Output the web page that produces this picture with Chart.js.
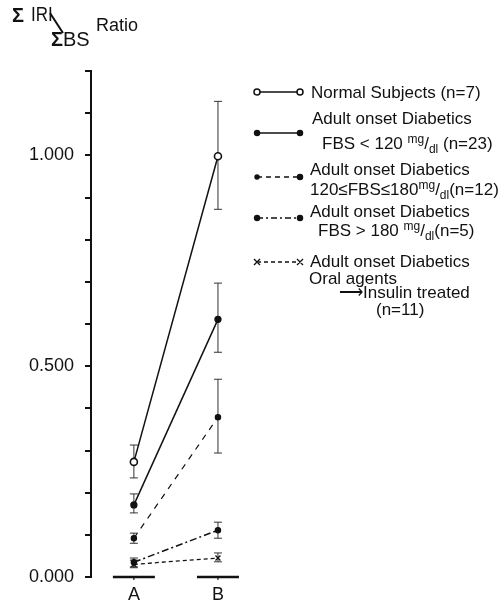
<!DOCTYPE html>
<html>
<head>
<meta charset="utf-8">
<script src="https://cdn.jsdelivr.net/npm/chart.js@4.4.1/dist/chart.umd.min.js"></script>
<style>
    body { margin: 0; background: #fff; }
    #wrap { position: relative; width: 499px; height: 604px; font-family: "Liberation Sans", Arial, sans-serif; color: #111; }
    #chart { position: absolute; left: 0; top: 0; }
    #deco { position: absolute; left: 0; top: 0; pointer-events: none; }
    .t { position: absolute; white-space: nowrap; font-size: 17px; line-height: 1; transform: translateY(-50%); }
    .t .up { font-size: 12px; position: relative; top: -6px; }
    .t .dn { font-size: 12px; position: relative; top: 4px; }
    .ttl { position: absolute; white-space: nowrap; font-size: 19px; line-height: 1; }
    .nar { display: inline-block; transform: scaleX(0.85); transform-origin: left center; }
</style>
</head>
<body>
<div id="wrap">
    <canvas id="chart" width="499" height="604"></canvas>

    <!-- axis title -->
    <div class="ttl" style="left:12px;top:5px;font-size:20px"><b>Σ</b></div>
    <div class="ttl" style="left:31px;top:4px;font-size:20px"><span class="nar">IRI</span></div>
    <div class="ttl" style="left:51px;top:29px;font-size:20px"><b>Σ</b>BS</div>
    <div class="ttl" style="left:96px;top:16px;font-size:18px">Ratio</div>

    <!-- legend -->
    <div class="t" style="left:311px;top:92px">Normal Subjects (n=7)</div>
    <div class="t" style="left:312px;top:118px">Adult onset Diabetics</div>
    <div class="t" style="left:322px;top:143px">FBS &lt; 120 <span class="up">mg</span>/<span class="dn">dl</span> (n=23)</div>
    <div class="t" style="left:310px;top:169px">Adult onset Diabetics</div>
    <div class="t" style="left:310px;top:189px">120≤FBS≤180<span class="up">mg</span>/<span class="dn">dl</span>(n=12)</div>
    <div class="t" style="left:310px;top:211px">Adult onset Diabetics</div>
    <div class="t" style="left:318px;top:230px">FBS &gt; 180 <span class="up">mg</span>/<span class="dn">dl</span>(n=5)</div>
    <div class="t" style="left:310px;top:261px">Adult onset Diabetics</div>
    <div class="t" style="left:309px;top:278px">Oral agents</div>
    <div class="t" style="left:339px;top:292px">⟶Insulin treated</div>
    <div class="t" style="left:376px;top:309px">(n=11)</div>

    <svg id="deco" width="499" height="604">
        <line x1="50" y1="13" x2="63" y2="33" stroke="#111" stroke-width="2"/>
        <g stroke="#111" stroke-width="1.5" fill="#111">
            <line x1="257" y1="92" x2="300" y2="92"/>
            <circle cx="257" cy="92" r="3" fill="#fff"/>
            <circle cx="300" cy="92" r="3" fill="#fff"/>
            <line x1="257" y1="133" x2="300" y2="133"/>
            <circle cx="257" cy="133" r="2.5"/>
            <circle cx="300" cy="133" r="2.5"/>
            <line x1="257" y1="177" x2="300" y2="177" stroke-dasharray="5,4"/>
            <circle cx="257" cy="177" r="2"/>
            <circle cx="300" cy="177" r="2.5"/>
            <line x1="257" y1="218" x2="300" y2="218" stroke-dasharray="6,3,2,3"/>
            <circle cx="257" cy="218" r="2.5"/>
            <circle cx="300" cy="218" r="2.5"/>
            <line x1="257" y1="262" x2="300" y2="262" stroke-dasharray="4,3"/>
            <path d="M254 259 L260 265 M260 259 L254 265 M297 259 L303 265 M303 259 L297 265" stroke-width="1.3"/>
        </g>
    </svg>
</div>

<script>
var groups = ['A', 'B'];
var xPos = [1, 2];

var normalMean = [0.273, 0.998];
var normalHigh = [0.313, 1.128];
var normalLow = [0.235, 0.872];

var fbsLowMean = [0.171, 0.611];
var fbsLowHigh = [0.197, 0.697];
var fbsLowLow = [0.152, 0.533];

var fbsMidMean = [0.092, 0.379];
var fbsMidHigh = [0.104, 0.469];
var fbsMidLow = [0.080, 0.294];

var fbsHighMean = [0.035, 0.111];
var fbsHighHigh = [0.045, 0.130];
var fbsHighLow = [0.024, 0.092];

var oralMean = [0.030, 0.045];
var oralHigh = [0.040, 0.057];
var oralLow = [0.022, 0.036];

var yLabels = [0, 0.5, 1.0];

function pts(arr) {
    return arr.map(function (v, i) { return {x: xPos[i], y: v}; });
}

var ink = '#111';

var errorBars = {
    id: 'errorBars',
    beforeDatasetsDraw: function (chart) {
        var ctx = chart.ctx;
        var xs = chart.scales.x, ys = chart.scales.y;
        ctx.save();
        ctx.strokeStyle = '#333';
        ctx.lineWidth = 1;
        chart.data.datasets.forEach(function (ds) {
            ds.errHigh.forEach(function (hi, i) {
                var x = xs.getPixelForValue(xPos[i]);
                var y1 = ys.getPixelForValue(hi);
                var y2 = ys.getPixelForValue(ds.errLow[i]);
                ctx.beginPath();
                ctx.moveTo(x, y1); ctx.lineTo(x, y2);
                ctx.moveTo(x - 4, y1); ctx.lineTo(x + 4, y1);
                ctx.moveTo(x - 4, y2); ctx.lineTo(x + 4, y2);
                ctx.stroke();
            });
        });
        ctx.restore();
    },
    afterDraw: function (chart) {
        // short base segments under each group
        var ctx = chart.ctx;
        var xs = chart.scales.x, ys = chart.scales.y;
        var y0 = ys.getPixelForValue(0);
        ctx.save();
        ctx.strokeStyle = ink;
        xPos.forEach(function (v) {
            var x = xs.getPixelForValue(v);
            ctx.lineWidth = 2.5;
            ctx.beginPath();
            ctx.moveTo(x - 21, y0); ctx.lineTo(x + 21, y0);
            ctx.stroke();
            ctx.lineWidth = 1.2;
            ctx.beginPath();
            ctx.moveTo(x, y0); ctx.lineTo(x, y0 + 3);
            ctx.stroke();
        });
        ctx.restore();
    }
};

var common = {
    borderColor: ink,
    borderWidth: 1.5,
    pointBorderColor: ink,
    pointBackgroundColor: ink,
    pointBorderWidth: 1.3,
    tension: 0
};

var ctx1 = document.getElementById('chart').getContext('2d');
var myChart = new Chart(ctx1, {
    type: 'line',
    data: {
        datasets: [
            Object.assign({}, common, {
                label: 'Normal Subjects (n=7)',
                data: pts(normalMean), errHigh: normalHigh, errLow: normalLow,
                pointRadius: 3.5, pointBackgroundColor: '#fff', pointBorderWidth: 1.6
            }),
            Object.assign({}, common, {
                label: 'FBS < 120 mg/dl (n=23)',
                data: pts(fbsLowMean), errHigh: fbsLowHigh, errLow: fbsLowLow,
                pointRadius: 3
            }),
            Object.assign({}, common, {
                label: '120 ≤ FBS ≤ 180 mg/dl (n=12)',
                data: pts(fbsMidMean), errHigh: fbsMidHigh, errLow: fbsMidLow,
                pointRadius: 2.6, borderDash: [6, 6], borderWidth: 1.2
            }),
            Object.assign({}, common, {
                label: 'FBS > 180 mg/dl (n=5)',
                data: pts(fbsHighMean), errHigh: fbsHighHigh, errLow: fbsHighLow,
                pointRadius: 2.6, borderDash: [7, 3, 2, 3], borderWidth: 1.5
            }),
            Object.assign({}, common, {
                label: 'Oral agents -> Insulin treated (n=11)',
                data: pts(oralMean), errHigh: oralHigh, errLow: oralLow,
                pointStyle: 'crossRot', pointRadius: 3.5, borderDash: [4, 3], borderWidth: 1.3
            })
        ]
    },
    options: {
        responsive: false,
        animation: false,
        layout: { padding: { left: 0, top: 71, right: 239, bottom: 0 } },
        plugins: {
            legend: { display: false },
            tooltip: { enabled: false }
        },
        scales: {
            x: {
                type: 'linear',
                min: 0.49,
                max: 2.5,
                afterBuildTicks: function (s) { s.ticks = xPos.map(function (v) { return {value: v}; }); },
                afterFit: function (s) { s.height = 27; },
                grid: { display: false },
                border: { display: false },
                ticks: {
                    color: ink,
                    padding: -1,
                    font: { family: 'Liberation Sans', size: 18 },
                    callback: function (v) { return groups[v - 1]; }
                }
            },
            y: {
                min: 0,
                max: 1.2,
                afterFit: function (s) { s.width = 91; },
                grid: { drawOnChartArea: false, tickLength: 6, color: ink, lineWidth: 2 },
                border: { color: ink, width: 2 },
                ticks: {
                    stepSize: 0.1,
                    padding: 11,
                    color: ink,
                    font: { family: 'Liberation Sans', size: 18 },
                    callback: function (v) {
                        var hit = yLabels.some(function (l) { return Math.abs(l - v) < 1e-6; });
                        return hit ? v.toFixed(3) : '';
                    }
                }
            }
        }
    },
    plugins: [errorBars]
});
</script>
</body>
</html>
